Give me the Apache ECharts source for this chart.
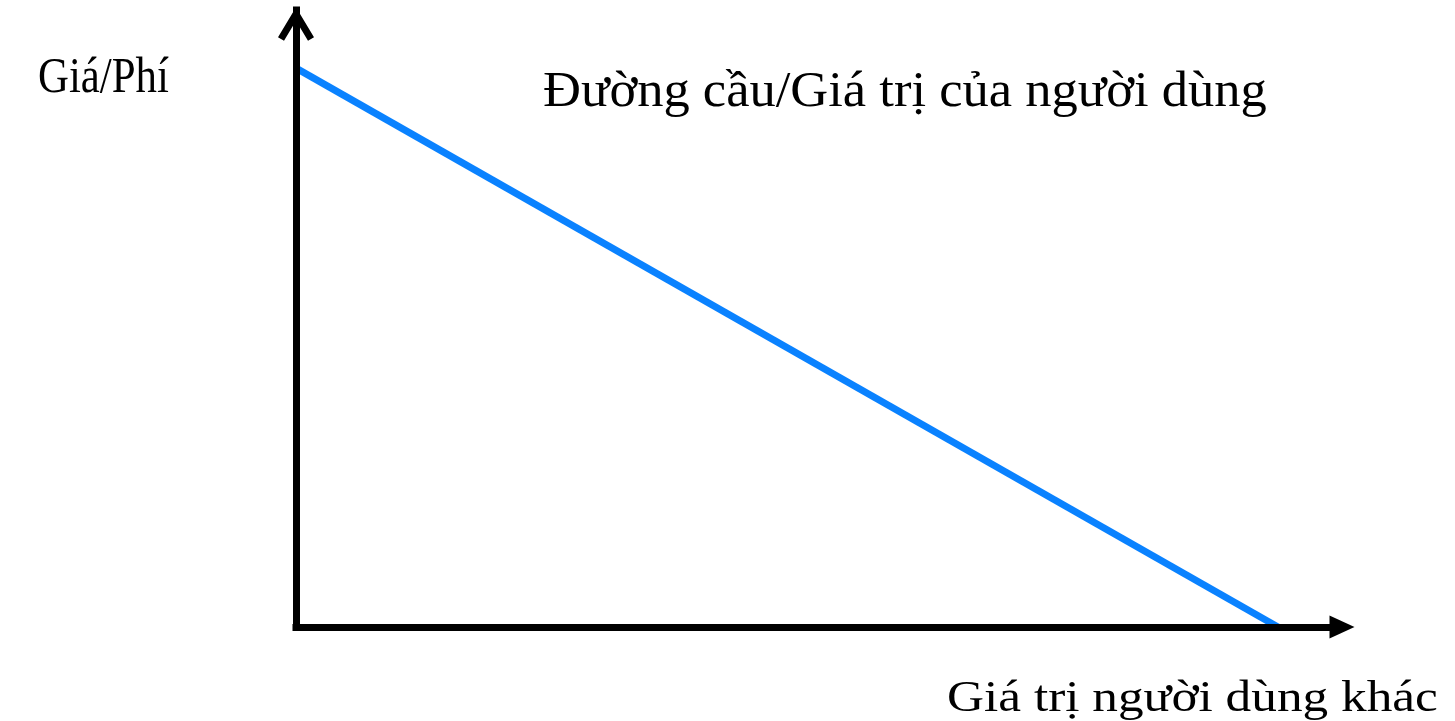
<!DOCTYPE html>
<html>
<head>
<meta charset="utf-8">
<script src="https://cdn.jsdelivr.net/npm/echarts@6/dist/echarts.min.js"></script>
<style>
html,body{margin:0;padding:0;background:#fff;}
#main{width:1455px;height:721px;}
</style>
</head>
<body>
<div id="main"></div>
<script>
// Data
var demandX = [0, 10];
var demandY = [10, 0];
var yAxisLabel = 'Giá/Phí';
var xAxisLabel = 'Giá trị người dùng khác';
var curveLabel = 'Đường cầu/Giá trị của người dùng';

var chart = echarts.init(document.getElementById('main'), null, {renderer: 'canvas'});
var points = demandX.map(function (x, i) { return [x, demandY[i]]; });

var font = '"Liberation Serif", "DejaVu Serif", serif';

chart.setOption({
  animation: false,
  backgroundColor: '#ffffff',
  grid: {left: 296, top: 10, right: 113, bottom: 94, containLabel: false},
  xAxis: {
    type: 'value', min: 0, max: 10.652, z: 5,
    splitLine: {show: false}, axisTick: {show: false}, axisLabel: {show: false},
    axisLine: {
      show: true, onZero: false,
      lineStyle: {color: '#000', width: 7, cap: 'square'},
      symbol: ['none', 'triangle'], symbolSize: [23, 25], symbolOffset: [0, 0]
    }
  },
  yAxis: {
    type: 'value', min: 0, max: 11.04, z: 5,
    splitLine: {show: false}, axisTick: {show: false}, axisLabel: {show: false},
    axisLine: {
      show: true, onZero: false,
      lineStyle: {color: '#000', width: 7, cap: 'square'},
      symbol: ['none', 'path://M18,0 L36,30 L30,33.6 L18,13.6 L6,33.6 L0,30 Z'],
      symbolSize: [36, 34], symbolOffset: [0, -14]
    }
  },
  series: [{
    type: 'line', data: points, symbol: 'none', z: 2,
    lineStyle: {color: '#0a82ff', width: 7}
  }],
  graphic: [
    {type: 'text', x: 38, y: 53, scaleX: 0.84, style: {text: yAxisLabel, font: '51px ' + font, fill: '#000', textAlign: 'left', textVerticalAlign: 'top', verticalAlign: 'top'}},
    {type: 'text', x: 543, y: 67, scaleX: 1.03, style: {text: curveLabel, font: '51px ' + font, fill: '#000', textAlign: 'left', textVerticalAlign: 'top', verticalAlign: 'top'}},
    {type: 'text', x: 947, y: 677, scaleX: 1.14, style: {text: xAxisLabel, font: '45px ' + font, fill: '#000', textAlign: 'left', textVerticalAlign: 'top', verticalAlign: 'top'}}
  ]
});
</script>
</body>
</html>
